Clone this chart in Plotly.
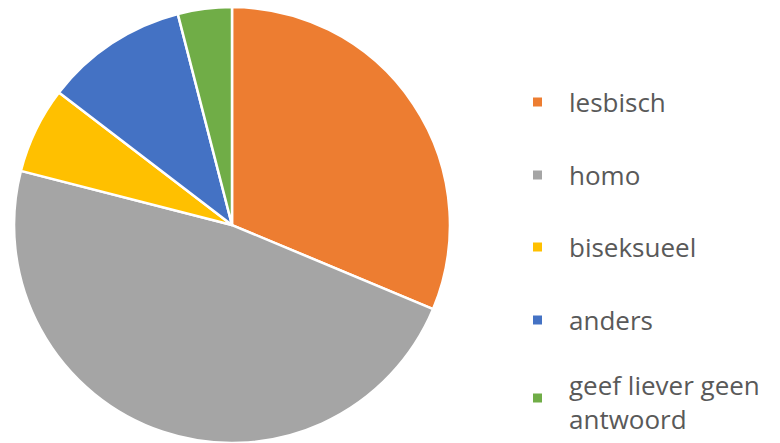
import plotly.graph_objects as go

labels = ["lesbisch", "homo", "biseksueel", "anders", "geef liever geen antwoord"]
legend_text = ["lesbisch", "homo", "biseksueel", "anders", "geef liever geen<br>antwoord"]
values = [31.3, 47.7, 6.4, 10.6, 4.0]
colors = ["#ED7D31", "#A5A5A5", "#FFC000", "#4472C4", "#70AD47"]

W, H = 780, 443

fig = go.Figure(go.Pie(
    labels=labels, values=values, sort=False, direction="clockwise", rotation=0,
    marker=dict(colors=colors, line=dict(color="white", width=2.5)),
    textinfo="none", hoverinfo="label+percent", showlegend=False,
    domain=dict(x=[14 / W, 450 / W], y=[0.0, 0.984]),
))

marker_y = [102, 175, 247, 320, 398]
text_y = [102, 175, 247, 320, 402]
shapes = []
annotations = []
for lab, c, my, ty in zip(legend_text, colors, marker_y, text_y):
    shapes.append(dict(type="rect", xref="paper", yref="paper",
                       x0=533 / W, x1=542 / W, y0=1 - (my + 4.5) / H, y1=1 - (my - 4.5) / H,
                       fillcolor=c, line=dict(width=0)))
    annotations.append(dict(x=567 / W, y=1 - ty / H, xref="paper", yref="paper",
                            text=lab, showarrow=False, xanchor="left", yanchor="middle",
                            align="left",
                            font=dict(family="Open Sans", size=26, color="#595959")))

fig.update_layout(width=W, height=H, margin=dict(l=0, r=0, t=0, b=0),
                  paper_bgcolor="white", plot_bgcolor="white",
                  shapes=shapes, annotations=annotations)
fig.write_html("out.html", config={"displayModeBar": False},
               post_script="document.body.style.margin='0';")
